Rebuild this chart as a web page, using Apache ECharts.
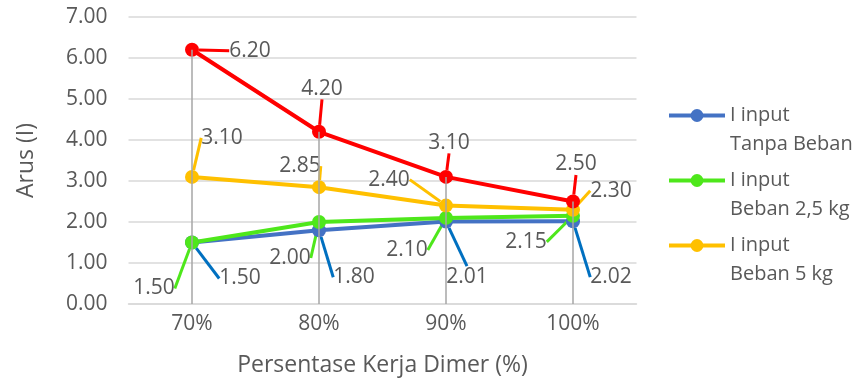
<!DOCTYPE html>
<html>
<head>
<meta charset="utf-8">
<script src="https://cdn.jsdelivr.net/npm/echarts@6/dist/echarts.min.js"></script>
<style>
    html, body { margin: 0; padding: 0; background: #fff; }
    #chart { width: 852px; height: 380px; }
</style>
</head>
<body>
<div id="chart"></div>
<script>
// kategori sumbu x
var categories = ['70%', '80%', '90%', '100%'];
var yTicks = [0, 1, 2, 3, 4, 5, 6, 7];

// nilai arus tiap seri
var tanpaBeban = [1.50, 1.80, 2.01, 2.02];
var beban25 = [1.50, 2.00, 2.10, 2.15];
var beban5 = [3.10, 2.85, 2.40, 2.30];
var arusMerah = [6.20, 4.20, 3.10, 2.50];

// geser label (dx, dy) dari titik
var offBlue = [[48, 36], [35, 47], [21, 55], [38, 56]];
var offGreen = [[-38, 46], [-29, 36], [-39, 32], [-47, 26]];
var offYellow = [[30, -39], [-19, -21], [-57, -26], [38, -19]];
var offRed = [[58, 1], [3, -43], [3, -34], [3, -37]];
var offsets = [offBlue, offGreen, offYellow, offRed];

var textColor = '#595959';
var font = '"Open Sans", "Noto Sans", sans-serif';

function makeSeries(name, data, color, leaderColor) {
    return {
        name: name,
        type: 'line',
        data: data,
        symbol: 'circle',
        symbolSize: 14,
        lineStyle: { color: color, width: 4 },
        itemStyle: { color: color },
        label: {
            show: true,
            position: 'inside',
            color: textColor,
            fontSize: 21,
            fontFamily: font,
            padding: [3, 5],
            formatter: function (p) { return p.value.toFixed(2); }
        },
        labelLine: {
            show: true,
            lineStyle: { color: leaderColor, width: 3 }
        },
        labelLayout: function (p) {
            var o = offsets[p.seriesIndex][p.dataIndex];
            return { dx: o[0], dy: o[1] };
        },
        animation: false
    };
}

var blue = makeSeries('I input\nTanpa Beban', tanpaBeban, '#4472C4', '#0070C0');
blue.markLine = {
    silent: true,
    symbol: 'none',
    label: { show: false },
    lineStyle: { color: '#A6A6A6', width: 1.5, type: 'solid' },
    data: arusMerah.map(function (v, i) {
        return [{ coord: [i, v] }, { coord: [i, 0] }];
    })
};

var option = {
    textStyle: { fontFamily: font },
    grid: { left: 128.5, right: 215.5, top: 17, bottom: 76, outerBoundsMode: 'none' },
    legend: {
        orient: 'vertical',
        left: 667,
        top: 72,
        padding: 0,
        itemWidth: 56,
        itemHeight: 16,
        itemGap: -22,
        lineStyle: { width: 4 },
        data: ['I input\nTanpa Beban', 'I input\nBeban 2,5 kg', 'I input\nBeban 5 kg'],
        formatter: function (name) { return '\n' + name; },
        textStyle: {
            color: textColor,
            fontSize: 20,
            fontFamily: font,
            lineHeight: 29
        }
    },
    xAxis: {
        type: 'category',
        data: categories,
        name: 'Persentase Kerja Dimer (%)',
        nameLocation: 'middle',
        nameGap: 50,
        nameTextStyle: { color: textColor, fontSize: 23, fontFamily: font },
        axisLine: { lineStyle: { color: '#D9D9D9', width: 1.5 } },
        axisTick: { show: false },
        axisLabel: { color: textColor, fontSize: 21, fontFamily: font, margin: 10 }
    },
    yAxis: {
        type: 'value',
        min: yTicks[0],
        max: yTicks[yTicks.length - 1],
        interval: 1,
        name: 'Arus (I)',
        nameLocation: 'middle',
        nameGap: 91,
        nameTextStyle: { color: textColor, fontSize: 23, fontFamily: font },
        axisLine: { show: false },
        axisTick: { show: false },
        axisLabel: {
            color: textColor, fontSize: 21, fontFamily: font, margin: 21,
            formatter: function (v) { return v.toFixed(2); }
        },
        splitLine: { lineStyle: { color: '#D9D9D9', width: 1.5 } }
    },
    series: [
        blue,
        makeSeries('I input\nBeban 2,5 kg', beban25, '#4EE71B', '#4EE71B'),
        makeSeries('I input\nBeban 5 kg', beban5, '#FFC000', '#FFC000'),
        makeSeries('Merah', arusMerah, '#FF0000', '#FF0000')
    ]
};

var myChart = echarts.init(document.getElementById('chart'));
myChart.setOption(option);
</script>
</body>
</html>
